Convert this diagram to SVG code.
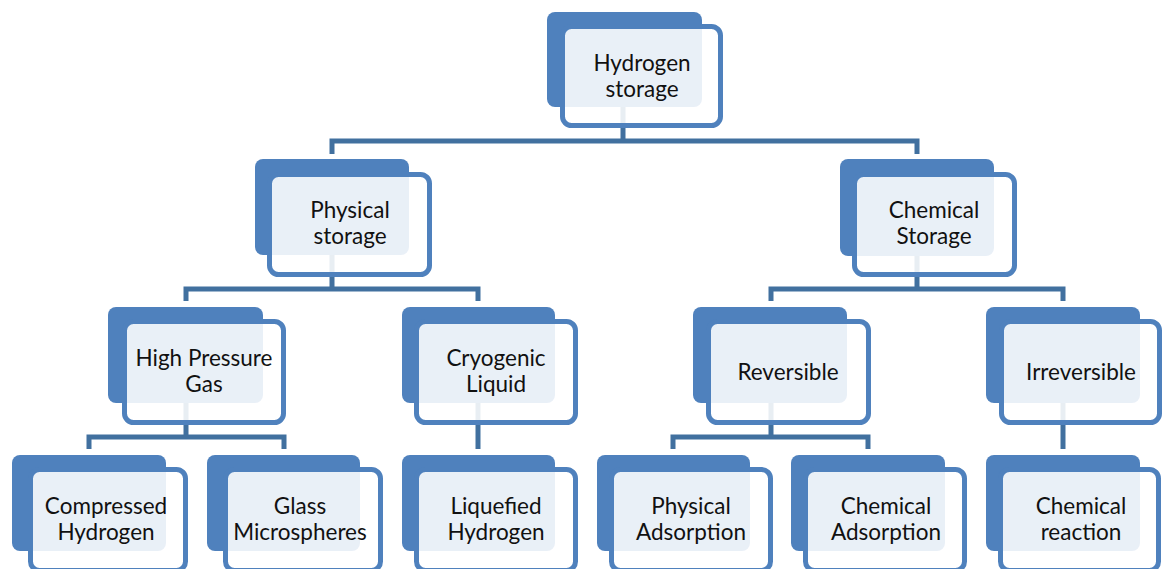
<svg xmlns="http://www.w3.org/2000/svg" width="1165" height="569" viewBox="0 0 1165 569">
<style>
.bk{fill:#4F81BD}
.fr{fill:#FFFFFF;fill-opacity:0.88;stroke:#4F81BD;stroke-width:5}
.cn{fill:none;stroke:#41709F;stroke-width:5;stroke-linejoin:miter}
text{font-family:Lato,"Open Sans","Liberation Sans",sans-serif;font-size:22.5px;fill:#111;text-anchor:middle}
</style>
<rect width="1165" height="569" fill="#FFFFFF"/>
<g id="connectors">
<path class="cn" d="M623,100 V141 M332,154 V141 H917 V154"/>
<path class="cn" d="M332,250 V289 M186,301 V289 H478 V301"/>
<path class="cn" d="M917,250 V289 M771,301 V289 H1063 V301"/>
<path class="cn" d="M186,398 V437 M89,449 V437 H284 V449"/>
<path class="cn" d="M478,398 V449"/>
<path class="cn" d="M771,398 V437 M673,449 V437 H868 V449"/>
<path class="cn" d="M1063,398 V449"/>
</g>
<g id="n-hydrogen-storage">
<rect class="bk" x="547" y="12" width="155" height="95" rx="8"/>
<rect class="fr" x="562.5" y="26.5" width="158" height="99" rx="9"/>
<text x="642" y="71">Hydrogen</text><text x="642" y="97">storage</text>
</g>
<g id="n-physical-storage">
<rect class="bk" x="255" y="159" width="154" height="96" rx="8"/>
<rect class="fr" x="269.5" y="174.5" width="160" height="100" rx="9"/>
<text x="350" y="218">Physical</text><text x="350" y="244">storage</text>
</g>
<g id="n-chemical-storage">
<rect class="bk" x="840" y="159" width="154" height="97" rx="8"/>
<rect class="fr" x="854.5" y="174.5" width="160" height="100" rx="9"/>
<text x="934" y="218">Chemical</text><text x="934" y="244">Storage</text>
</g>
<g id="n-high-pressure-gas">
<rect class="bk" x="108" y="307" width="155" height="96" rx="8"/>
<rect class="fr" x="124.5" y="321.5" width="159" height="101" rx="9"/>
<text x="204" y="366">High Pressure</text><text x="204" y="392">Gas</text>
</g>
<g id="n-cryogenic-liquid">
<rect class="bk" x="402" y="307" width="153" height="96" rx="8"/>
<rect class="fr" x="416.5" y="321.5" width="159" height="101" rx="9"/>
<text x="496" y="366">Cryogenic</text><text x="496" y="392">Liquid</text>
</g>
<g id="n-reversible">
<rect class="bk" x="693" y="307" width="154" height="96" rx="8"/>
<rect class="fr" x="708.5" y="321.5" width="160" height="101" rx="9"/>
<text x="788" y="380">Reversible</text>
</g>
<g id="n-irreversible">
<rect class="bk" x="986" y="307" width="154" height="96" rx="8"/>
<rect class="fr" x="1001.5" y="321.5" width="158" height="101" rx="9"/>
<text x="1081" y="380">Irreversible</text>
</g>
<g id="n-compressed-hydrogen">
<rect class="bk" x="12" y="455" width="154" height="96" rx="8"/>
<rect class="fr" x="30.5" y="469.5" width="155" height="101" rx="9"/>
<text x="106" y="514">Compressed</text><text x="106" y="540">Hydrogen</text>
</g>
<g id="n-glass-microspheres">
<rect class="bk" x="207" y="455" width="153" height="96" rx="8"/>
<rect class="fr" x="225.5" y="469.5" width="155" height="101" rx="9"/>
<text x="300" y="514">Glass</text><text x="300" y="540">Microspheres</text>
</g>
<g id="n-liquefied-hydrogen">
<rect class="bk" x="402" y="455" width="153" height="96" rx="8"/>
<rect class="fr" x="416.5" y="469.5" width="159" height="101" rx="9"/>
<text x="496" y="514">Liquefied</text><text x="496" y="540">Hydrogen</text>
</g>
<g id="n-physical-adsorption">
<rect class="bk" x="597" y="455" width="153" height="96" rx="8"/>
<rect class="fr" x="611.5" y="469.5" width="159" height="101" rx="9"/>
<text x="691" y="514">Physical</text><text x="691" y="540">Adsorption</text>
</g>
<g id="n-chemical-adsorption">
<rect class="bk" x="791" y="455" width="154" height="96" rx="8"/>
<rect class="fr" x="805.5" y="469.5" width="159" height="101" rx="9"/>
<text x="886" y="514">Chemical</text><text x="886" y="540">Adsorption</text>
</g>
<g id="n-chemical-reaction">
<rect class="bk" x="986" y="455" width="154" height="96" rx="8"/>
<rect class="fr" x="1000.5" y="469.5" width="158" height="101" rx="9"/>
<text x="1081" y="514">Chemical</text><text x="1081" y="540">reaction</text>
</g>
</svg>
